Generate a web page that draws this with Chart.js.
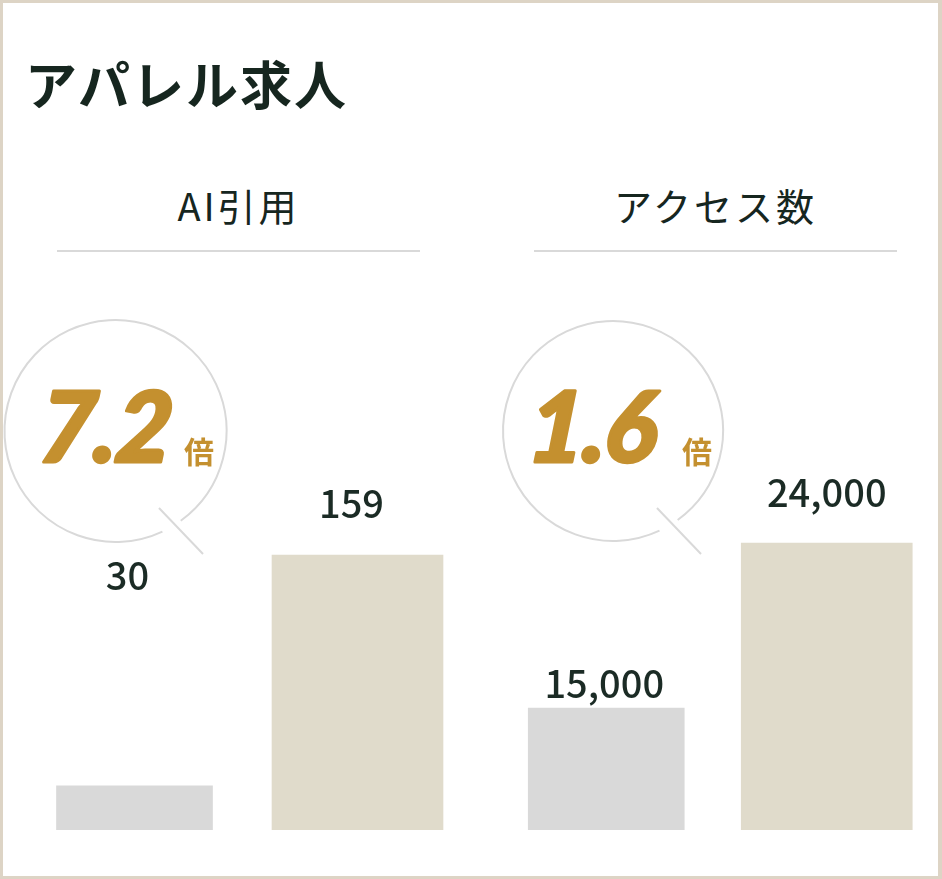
<!DOCTYPE html>
<html lang="ja">
<head>
<meta charset="utf-8">
<script src="https://cdn.jsdelivr.net/npm/chart.js@4"></script>
<style>
  html, body { margin: 0; padding: 0; background: #fff; }
  body { width: 942px; height: 879px; position: relative; overflow: hidden;
         font-family: "Noto Sans CJK JP", "Noto Sans", sans-serif; color: #16261f; }
  #frame { position: absolute; left: 0; top: 0; width: 942px; height: 879px;
           box-sizing: border-box; border: 3px solid #ddd4c5; border-right-width: 4px; pointer-events: none; }
  h1 { position: absolute; left: 25px; top: 52px; margin: 0; font-size: 52px; font-weight: 700;
       letter-spacing: 2px; line-height: 1.2; }
  .sub { position: absolute; top: 182px; width: 363px; text-align: center; font-size: 38px;
         font-weight: 400; letter-spacing: 3px; line-height: 1.2; padding-bottom: 22px;
         border-bottom: 2px solid #d9d9d9; }
  canvas { position: absolute; top: 260px; }
</style>
</head>
<body>
<div id="frame"></div>
<h1 id="title"></h1>
<div class="sub" id="sub1" style="left:57px"></div>
<div class="sub" id="sub2" style="left:534px"></div>
<canvas id="left" width="471" height="619" style="left:0"></canvas>
<canvas id="right" width="471" height="619" style="left:471px"></canvas>
<script>
// データ
const chartTitle = 'アパレル求人';
const panelTitles = ['AI引用', 'アクセス数'];
const categories = ['以前', '現在'];
const aiCitations = [30, 159];
const accessCounts = [15000, 24000];
const multipliers = ['7.2', '1.6'];
const multiplierUnit = '倍';

document.getElementById('title').textContent = chartTitle;
document.getElementById('sub1').textContent = panelTitles[0];
document.getElementById('sub2').textContent = panelTitles[1];

const GRAY = '#d9d9d9';
const BEIGE = '#e0dbcb';
const GOLD = '#c4902f';
const DARK = '#1b2b25';

// 倍率の吹き出しと数値ラベル
const bubblePlugin = {
  id: 'bubble',
  afterDatasetsDraw(chart) {
    const o = chart.options.plugins.bubble;
    const ctx = chart.ctx;
    ctx.save();
    // 円（しっぽの部分は切れている）
    ctx.strokeStyle = GRAY;
    ctx.lineWidth = 2;
    ctx.beginPath();
    ctx.arc(o.cx, o.cy, o.r, o.gap[1] * Math.PI / 180, (o.gap[0] + 360) * Math.PI / 180);
    ctx.stroke();
    ctx.beginPath();
    ctx.moveTo(o.tail[0], o.tail[1]);
    ctx.lineTo(o.tail[2], o.tail[3]);
    ctx.stroke();
    // 倍率（少し強めに傾けて太く）
    ctx.fillStyle = GOLD;
    ctx.strokeStyle = GOLD;
    ctx.lineJoin = 'round';
    ctx.lineWidth = 3;
    ctx.textBaseline = 'alphabetic';
    ctx.textAlign = 'left';
    ctx.save();
    ctx.translate(o.tx, o.ty);
    ctx.transform(1, 0, -0.08, 1, 0, 0);
    ctx.font = 'italic 900 98px Lato';
    ctx.letterSpacing = '-2px';
    ctx.fillText(o.text, 0, -1);
    ctx.strokeText(o.text, 0, -1);
    ctx.restore();
    ctx.font = '700 30px "Noto Sans CJK JP"';
    ctx.fillText(multiplierUnit, o.ux, o.ty);
    // 値ラベル
    ctx.fillStyle = DARK;
    ctx.textAlign = 'center';
    ctx.font = '500 38px "Noto Sans CJK JP"';
    chart.data.datasets.forEach((ds, di) => {
      const meta = chart.getDatasetMeta(di);
      ds.data.forEach((v, i) => {
        if (v == null) return;
        const bar = meta.data[i];
        const off = o.labels[i];
        ctx.fillText(v.toLocaleString('en-US'), bar.x + off[0], bar.y - off[1]);
      });
    });
    ctx.restore();
  }
};

function makeChart(id, values, yMin, yMax, pad, bubble) {
  return new Chart(document.getElementById(id), {
    type: 'bar',
    data: {
      labels: categories,
      datasets: [{
        data: [values[0], null],
        backgroundColor: GRAY,
        barThickness: 156,
        grouped: false
      }, {
        data: [null, values[1]],
        backgroundColor: BEIGE,
        barThickness: 171,
        grouped: false
      }]
    },
    options: {
      responsive: false,
      animation: false,
      layout: { padding: pad },
      scales: {
        x: { display: false },
        y: { display: false, min: yMin, max: yMax }
      },
      plugins: {
        legend: { display: false },
        tooltip: { enabled: false },
        bubble: bubble
      }
    },
    plugins: [bubblePlugin]
  });
}

makeChart('left', aiCitations, 5.4, 301.4,
  { left: 23, right: 2, top: 40, bottom: 49 },
  { cx: 115.5, cy: 171, r: 111, gap: [54, 65], tail: [159, 248, 203, 294],
    text: multipliers[0], tx: 37, ty: 203, ux: 184, labels: [[-7, 196], [-6, 37]] });

makeChart('right', accessCounts, 8345, 37254,
  { left: 25, right: 5, top: 40, bottom: 49 },
  { cx: 142, cy: 171, r: 110, gap: [54, 65], tail: [186, 248, 230, 294],
    text: multipliers[1], tx: 55, ty: 203, ux: 211, labels: [[-2, 10], [0, 36]] });
</script>
</body>
</html>
